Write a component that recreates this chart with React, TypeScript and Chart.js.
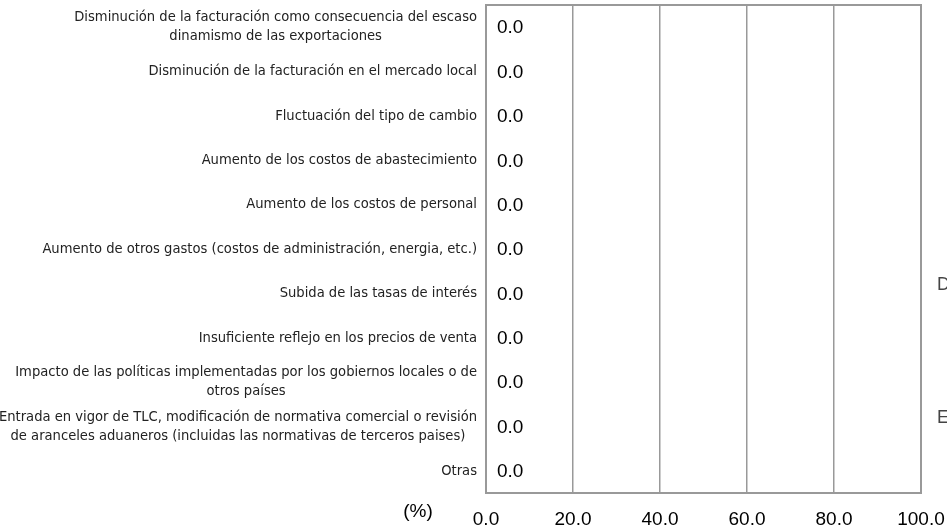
import React, { useEffect, useRef } from "react";
import { Chart, registerables } from "chart.js";

Chart.register(...registerables);

const categories: string[][] = [
  ["Disminución de la facturación como consecuencia del escaso", "dinamismo de las exportaciones"],
  ["Disminución de la facturación en el mercado local"],
  ["Fluctuación del tipo de cambio"],
  ["Aumento de los costos de abastecimiento"],
  ["Aumento de los costos de personal"],
  ["Aumento de otros gastos (costos de administración, energia, etc.)"],
  ["Subida de las tasas de interés"],
  ["Insuficiente reflejo en los precios de venta"],
  ["Impacto de las políticas implementadas por los gobiernos locales o de", "otros países"],
  ["Entrada en vigor de TLC, modificación de normativa comercial o revisión", "de aranceles aduaneros (incluidas las normativas de terceros paises)"],
  ["Otras"],
];

const values: number[] = [0, 0, 0, 0, 0, 0, 0, 0, 0, 0, 0];

const rightLabels: string[] = ["", "", "", "", "", "", "D", "", "", "E", ""];

const xMin = 0;
const xMax = 100;
const xStep = 20;
const unitLabel = "(%)";

const LABEL_FONT = '"DejaVu Sans Condensed", "Liberation Sans", Arial, sans-serif';
const MAIN_FONT = '"Liberation Sans", Arial, sans-serif';

export default function App() {
  const ref = useRef<HTMLCanvasElement | null>(null);

  useEffect(() => {
    if (!ref.current) return;

    const overlay = {
      id: "overlay",
      afterDraw(chart: any) {
        const ctx = chart.ctx;
        const area = chart.chartArea;
        const yScale = chart.scales.y;
        ctx.save();
        // plot border
        ctx.strokeStyle = "#999999";
        ctx.lineWidth = 2;
        ctx.strokeRect(area.left, area.top, area.right - area.left, area.bottom - area.top);

        // category labels: block right-aligned, lines centered within block
        ctx.font = `14.6px ${LABEL_FONT}`;
        ctx.fillStyle = "#222222";
        ctx.textBaseline = "middle";
        ctx.textAlign = "center";
        const lineH = 19;
        const rightEdge = area.left - 9;
        categories.forEach((lines, i) => {
          const yc = yScale.getPixelForTick(i);
          const maxW = Math.max(...lines.map((l) => ctx.measureText(l).width));
          const cx = rightEdge - maxW / 2;
          const start = yc - ((lines.length - 1) * lineH) / 2;
          lines.forEach((l, k) => ctx.fillText(l, cx, start + k * lineH));
        });

        // right-side labels
        ctx.font = `18px ${MAIN_FONT}`;
        ctx.fillStyle = "#444444";
        ctx.textAlign = "left";
        rightLabels.forEach((l, i) => {
          if (l) ctx.fillText(l, area.right + 16, yScale.getPixelForTick(i) - 8);
        });

        // value labels
        ctx.font = `19px ${MAIN_FONT}`;
        ctx.fillStyle = "#000000";
        ctx.textAlign = "left";
        const meta = chart.getDatasetMeta(0);
        meta.data.forEach((el: any, i: number) => {
          ctx.fillText(values[i].toFixed(1), el.x + 11, el.y + 1);
        });

        // unit label
        ctx.font = `19px ${MAIN_FONT}`;
        ctx.textAlign = "center";
        ctx.fillText(unitLabel, area.left - 68, area.bottom + 19);
        ctx.restore();
      },
    };

    const chart = new Chart(ref.current, {
      type: "bar",
      data: {
        labels: categories.map((c) => c.join(" ")),
        datasets: [
          {
            data: values,
            backgroundColor: "#4472c4",
            borderWidth: 0,
          },
        ],
      },
      options: {
        indexAxis: "y",
        animation: false,
        responsive: true,
        maintainAspectRatio: false,
        layout: { padding: { top: 5, left: 0, right: 26, bottom: 0 } },
        plugins: {
          legend: { display: false },
          tooltip: { enabled: false },
        },
        scales: {
          x: {
            type: "linear",
            position: "bottom",
            min: xMin,
            max: xMax,
            ticks: {
              stepSize: xStep,
              color: "#000000",
              font: { size: 19, family: MAIN_FONT },
              padding: 15,
              callback: (v: any) => Number(v).toFixed(1),
            },
            grid: { color: "#999999", lineWidth: 1.5, drawTicks: false },
            border: { display: false },
            afterFit: (s: any) => {
              s.height = 35;
              s.paddingLeft = 0;
              s.paddingRight = 0;
            },
          },
          y: {
            type: "category",
            position: "left",
            ticks: { display: false },
            grid: { display: false },
            border: { display: false },
            afterFit: (s: any) => {
              s.width = 486;
              s.paddingTop = 0;
              s.paddingBottom = 0;
            },
          },
        },
      },
      plugins: [overlay],
    });

    return () => chart.destroy();
  }, []);

  return (
    <div style={{ position: "absolute", left: 0, top: 0, width: 947, height: 528, background: "#ffffff" }}>
      <canvas ref={ref} />
    </div>
  );
}
